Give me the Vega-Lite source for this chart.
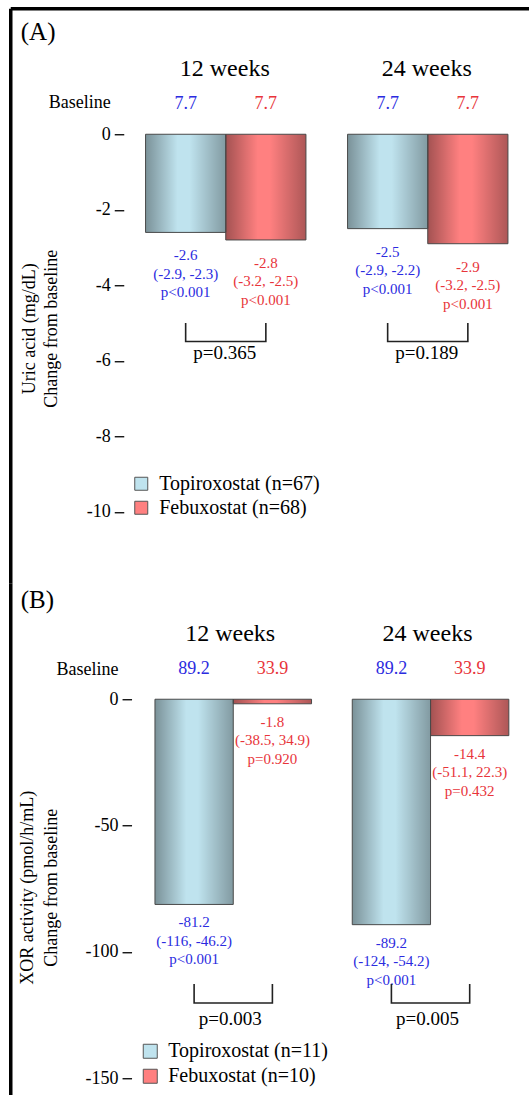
{
  "$schema": "https://vega.github.io/schema/vega-lite/v6.json",
  "padding": {"left": 10.25, "top": 8.25, "right": 0, "bottom": 0},
  "background": "white",
  "spacing": 0,
  "bounds": "flush",
  "config": {
    "font": "Liberation Serif",
    "view": {"stroke": null},
    "axis": {"labelFont": "Liberation Serif", "titleFont": "Liberation Serif", "grid": false},
    "legend": {"labelFont": "Liberation Serif"},
    "text": {"font": "Liberation Serif"}
  },
  "resolve": {
    "scale": {"x": "independent", "y": "independent", "xOffset": "independent", "color": "independent"},
    "legend": {"color": "independent"}
  },
  "datasets": {
    "barsA": [
      {"week": "12 weeks", "drug": "Topiroxostat", "value": -2.6, "base": "7.7", "label": "-2.6\n(-2.9, -2.3)\np<0.001"},
      {"week": "12 weeks", "drug": "Febuxostat", "value": -2.8, "base": "7.7", "label": "-2.8\n(-3.2, -2.5)\np<0.001"},
      {"week": "24 weeks", "drug": "Topiroxostat", "value": -2.5, "base": "7.7", "label": "-2.5\n(-2.9, -2.2)\np<0.001"},
      {"week": "24 weeks", "drug": "Febuxostat", "value": -2.9, "base": "7.7", "label": "-2.9\n(-3.2, -2.5)\np<0.001"}
    ],
    "pA": [
      {"week": "12 weeks", "p": "p=0.365"},
      {"week": "24 weeks", "p": "p=0.189"}
    ],
    "bracketA": [
      {"week": "12 weeks", "drug": "Topiroxostat", "y": -5.0, "o": 1},
      {"week": "12 weeks", "drug": "Topiroxostat", "y": -5.49, "o": 2},
      {"week": "12 weeks", "drug": "Febuxostat", "y": -5.49, "o": 3},
      {"week": "12 weeks", "drug": "Febuxostat", "y": -5.0, "o": 4},
      {"week": "24 weeks", "drug": "Topiroxostat", "y": -5.0, "o": 1},
      {"week": "24 weeks", "drug": "Topiroxostat", "y": -5.49, "o": 2},
      {"week": "24 weeks", "drug": "Febuxostat", "y": -5.49, "o": 3},
      {"week": "24 weeks", "drug": "Febuxostat", "y": -5.0, "o": 4}
    ],
    "barsB": [
      {"week": "12 weeks", "drug": "Topiroxostat", "value": -81.2, "base": "89.2", "label": "-81.2\n(-116, -46.2)\np<0.001"},
      {"week": "12 weeks", "drug": "Febuxostat", "value": -1.8, "base": "33.9", "label": "-1.8\n(-38.5, 34.9)\np=0.920"},
      {"week": "24 weeks", "drug": "Topiroxostat", "value": -89.2, "base": "89.2", "label": "-89.2\n(-124, -54.2)\np<0.001"},
      {"week": "24 weeks", "drug": "Febuxostat", "value": -14.4, "base": "33.9", "label": "-14.4\n(-51.1, 22.3)\np=0.432"}
    ],
    "pB": [
      {"week": "12 weeks", "p": "p=0.003"},
      {"week": "24 weeks", "p": "p=0.005"}
    ],
    "bracketB": [
      {"week": "12 weeks", "drug": "Topiroxostat", "y": -112.7, "o": 1},
      {"week": "12 weeks", "drug": "Topiroxostat", "y": -120.2, "o": 2},
      {"week": "12 weeks", "drug": "Febuxostat", "y": -120.2, "o": 3},
      {"week": "12 weeks", "drug": "Febuxostat", "y": -112.7, "o": 4},
      {"week": "24 weeks", "drug": "Topiroxostat", "y": -112.7, "o": 1},
      {"week": "24 weeks", "drug": "Topiroxostat", "y": -120.2, "o": 2},
      {"week": "24 weeks", "drug": "Febuxostat", "y": -120.2, "o": 3},
      {"week": "24 weeks", "drug": "Febuxostat", "y": -112.7, "o": 4}
    ]
  },
  "vconcat": [
    {
      "width": 519,
      "height": 575,
      "resolve": {"axis": {"y": "independent"}},
      "layer": [
        {
          "data": {"name": "barsA"},
          "mark": {"type": "bar"},
          "encoding": {
            "x": {"field": "week", "type": "nominal", "sort": null,
              "scale": {"domain": ["12 weeks", "24 weeks"], "paddingInner": 0, "paddingOuter": 0.28465, "align": 0.987},
              "axis": {"orient": "top", "domain": true, "domainColor": "black", "domainWidth": 3.5, "labels": false, "ticks": false, "title": null}},
            "xOffset": {"field": "drug", "type": "nominal",
              "scale": {"domain": ["Topiroxostat", "Febuxostat"], "paddingInner": 0, "paddingOuter": 0.2594, "align": 0.524}},
            "y": {"field": "value", "type": "quantitative", "stack": null,
              "scale": {"domain": [-11.894, 3.338], "nice": false, "zero": false},
              "axis": {"orient": "left", "offset": -113.5, "domain": false, "values": [0.83, 0, -2, -4, -6, -8, -10],
                "labelExpr": "datum.value > 0.5 ? 'Baseline' : '' + datum.value",
                "tickOpacity": {"condition": {"test": "datum.value > 0.5", "value": 0}, "value": 1},
                "tickSize": 9.5, "tickColor": "black", "tickWidth": 1.3,
                "labelFontSize": 18, "labelColor": "black", "labelPadding": 4, "labelOverlap": false, "labelFlush": false,
                "title": ["Uric acid (mg/dL)", "Change from baseline"], "titleFontSize": 18, "titleFontWeight": "normal", "titleColor": "black",
                "titleAngle": 270, "titleAlign": "center", "titleBaseline": "top", "titleX": -103, "titleY": 320, "titleLineHeight": 22}},
            "y2": {"datum": 0},
            "color": {"field": "drug", "type": "nominal",
              "scale": {"domain": ["Topiroxostat", "Febuxostat"], "range": ["#bfe3ee", "#ff8080"]},
              "legend": {"orient": "none", "legendX": 121, "legendY": 465.5, "title": null, "direction": "vertical",
                "labelExpr": "datum.label == 'Topiroxostat' ? 'Topiroxostat (n=67)' : 'Febuxostat (n=68)'",
                "labelFontSize": 20, "labelColor": "black", "labelOffset": 8, "labelLimit": 400, "rowPadding": 4, "padding": 0,
                "symbolType": "square", "symbolSize": 169, "symbolStrokeColor": "#555555", "symbolStrokeWidth": 1, "symbolOpacity": 1}}
          }
        },
        {
          "data": {"name": "barsA"},
          "mark": {"type": "bar", "stroke": "#4a4a4a", "strokeWidth": 1,
            "fill": {"gradient": "linear", "x1": 0, "y1": 0, "x2": 1, "y2": 0,
              "stops": [
                {"offset": 0, "color": "rgba(0,0,0,0.36)"},
                {"offset": 0.4, "color": "rgba(0,0,0,0)"},
                {"offset": 0.55, "color": "rgba(0,0,0,0)"},
                {"offset": 1, "color": "rgba(0,0,0,0.32)"}
              ]}},
          "encoding": {
            "x": {"field": "week", "type": "nominal",
              "axis": {"orient": "top", "domain": true, "domainColor": "black", "domainWidth": 3.5, "labels": false, "ticks": false, "title": null}},
            "xOffset": {"field": "drug", "type": "nominal"},
            "y": {"field": "value", "type": "quantitative", "stack": null, "axis": null},
            "y2": {"datum": 0}
          }
        },
        {
          "mark": {"type": "rule", "color": "#333333", "strokeWidth": 2},
          "encoding": {
            "x": {"datum": "12 weeks", "type": "nominal", "bandPosition": 0,
              "axis": {"orient": "top", "domain": true, "domainColor": "black", "domainWidth": 3.5, "labels": false, "ticks": false, "title": null}},
            "x2": {"value": "width"},
            "y": {"datum": 0, "type": "quantitative", "axis": null}
          }
        },
        {
          "mark": {"type": "rule", "color": "black", "strokeWidth": 1.5},
          "encoding": {
            "x": {"datum": "12 weeks", "type": "nominal", "bandPosition": 0,
              "axis": {"orient": "top", "domain": true, "domainColor": "black", "domainWidth": 3.5, "labels": false, "ticks": false, "title": null}},
            "y": {"datum": 1.04, "type": "quantitative",
              "axis": {"orient": "left", "offset": 0, "domain": true, "domainColor": "black", "domainWidth": 3.5,
                "labels": false, "ticks": false, "grid": false,
                "title": "(A)", "titleAngle": 0, "titleAlign": "left", "titleBaseline": "middle",
                "titleX": 10, "titleY": 23, "titleFontSize": 25, "titleFontWeight": "normal", "titleColor": "black"}},
            "y2": {"datum": -10.36}
          }
        },
        {
          "data": {"name": "pA"},
          "mark": {"type": "text", "fontSize": 24, "color": "black", "baseline": "middle"},
          "encoding": {
            "x": {"field": "week", "type": "nominal",
              "axis": {"orient": "top", "domain": true, "domainColor": "black", "domainWidth": 3.5, "labels": false, "ticks": false, "title": null}},
            "y": {"datum": 1.72, "type": "quantitative", "axis": null},
            "text": {"field": "week"}
          }
        },
        {
          "data": {"name": "barsA"},
          "mark": {"type": "text", "fontSize": 18, "baseline": "middle"},
          "encoding": {
            "x": {"field": "week", "type": "nominal",
              "axis": {"orient": "top", "domain": true, "domainColor": "black", "domainWidth": 3.5, "labels": false, "ticks": false, "title": null}},
            "xOffset": {"field": "drug", "type": "nominal"},
            "y": {"datum": 0.8, "type": "quantitative", "axis": null},
            "text": {"field": "base"},
            "color": {"condition": {"test": "datum.drug == 'Topiroxostat'", "value": "#2b2be0"}, "value": "#e8343a"}
          }
        },
        {
          "data": {"name": "barsA"},
          "mark": {"type": "text", "fontSize": 15, "baseline": "top", "lineBreak": "\n", "lineHeight": 18.5, "dy": 16},
          "encoding": {
            "x": {"field": "week", "type": "nominal",
              "axis": {"orient": "top", "domain": true, "domainColor": "black", "domainWidth": 3.5, "labels": false, "ticks": false, "title": null}},
            "xOffset": {"field": "drug", "type": "nominal"},
            "y": {"field": "value", "type": "quantitative", "axis": null},
            "text": {"field": "label"},
            "color": {"condition": {"test": "datum.drug == 'Topiroxostat'", "value": "#2b2be0"}, "value": "#e8343a"}
          }
        },
        {
          "data": {"name": "bracketA"},
          "mark": {"type": "line", "color": "#222222", "strokeWidth": 1.6},
          "encoding": {
            "x": {"field": "week", "type": "nominal",
              "axis": {"orient": "top", "domain": true, "domainColor": "black", "domainWidth": 3.5, "labels": false, "ticks": false, "title": null}},
            "xOffset": {"field": "drug", "type": "nominal"},
            "y": {"field": "y", "type": "quantitative", "axis": null},
            "detail": {"field": "week"},
            "order": {"field": "o"}
          }
        },
        {
          "data": {"name": "pA"},
          "mark": {"type": "text", "fontSize": 19, "color": "black", "baseline": "middle"},
          "encoding": {
            "x": {"field": "week", "type": "nominal",
              "axis": {"orient": "top", "domain": true, "domainColor": "black", "domainWidth": 3.5, "labels": false, "ticks": false, "title": null}},
            "y": {"datum": -5.8, "type": "quantitative", "axis": null},
            "text": {"field": "p"}
          }
        }
      ]
    },
    {
      "width": 519,
      "height": 512,
      "resolve": {"axis": {"y": "independent"}},
      "layer": [
        {
          "data": {"name": "barsB"},
          "mark": {"type": "bar"},
          "encoding": {
            "x": {"field": "week", "type": "nominal", "sort": null,
              "scale": {"domain": ["12 weeks", "24 weeks"], "paddingInner": 0, "paddingOuter": 0.3153, "align": 0.975},
              "axis": null},
            "xOffset": {"field": "drug", "type": "nominal",
              "scale": {"domain": ["Topiroxostat", "Febuxostat"], "paddingInner": 0, "paddingOuter": 0.26, "align": 0.575}},
            "y": {"field": "value", "type": "quantitative", "stack": null,
              "scale": {"domain": [-156.7, 45.9], "nice": false, "zero": false},
              "axis": {"orient": "left", "offset": -121.3, "domain": false, "values": [11.9, 0, -50, -100, -150],
                "labelExpr": "datum.value > 5 ? 'Baseline' : '' + datum.value",
                "tickOpacity": {"condition": {"test": "datum.value > 5", "value": 0}, "value": 1},
                "tickSize": 9.5, "tickColor": "black", "tickWidth": 1.3,
                "labelFontSize": 18, "labelColor": "black", "labelPadding": 4, "labelOverlap": false, "labelFlush": false,
                "title": ["XOR activity (pmol/h/mL)", "Change from baseline"], "titleFontSize": 18, "titleFontWeight": "normal", "titleColor": "black",
                "titleAngle": 270, "titleAlign": "center", "titleBaseline": "top", "titleX": -113.5, "titleY": 304, "titleLineHeight": 24}},
            "y2": {"datum": 0},
            "color": {"field": "drug", "type": "nominal",
              "scale": {"domain": ["Topiroxostat", "Febuxostat"], "range": ["#bfe3ee", "#ff8080"]},
              "legend": {"orient": "none", "legendX": 130, "legendY": 458, "title": null, "direction": "vertical",
                "labelExpr": "datum.label == 'Topiroxostat' ? 'Topiroxostat (n=11)' : 'Febuxostat (n=10)'",
                "labelFontSize": 20, "labelColor": "black", "labelOffset": 8, "labelLimit": 400, "rowPadding": 5, "padding": 0,
                "symbolType": "square", "symbolSize": 196, "symbolStrokeColor": "#555555", "symbolStrokeWidth": 1, "symbolOpacity": 1}}
          }
        },
        {
          "data": {"name": "barsB"},
          "mark": {"type": "bar", "stroke": "#4a4a4a", "strokeWidth": 1,
            "fill": {"gradient": "linear", "x1": 0, "y1": 0, "x2": 1, "y2": 0,
              "stops": [
                {"offset": 0, "color": "rgba(0,0,0,0.36)"},
                {"offset": 0.4, "color": "rgba(0,0,0,0)"},
                {"offset": 0.55, "color": "rgba(0,0,0,0)"},
                {"offset": 1, "color": "rgba(0,0,0,0.32)"}
              ]}},
          "encoding": {
            "x": {"field": "week", "type": "nominal", "axis": null},
            "xOffset": {"field": "drug", "type": "nominal"},
            "y": {"field": "value", "type": "quantitative", "stack": null, "axis": null},
            "y2": {"datum": 0}
          }
        },
        {
          "mark": {"type": "rule", "color": "#333333", "strokeWidth": 2},
          "encoding": {
            "x": {"datum": "12 weeks", "type": "nominal", "bandPosition": 0, "axis": null},
            "x2": {"value": "width"},
            "y": {"datum": 0, "type": "quantitative", "axis": null}
          }
        },
        {
          "mark": {"type": "rule", "color": "black", "strokeWidth": 1.5},
          "encoding": {
            "x": {"datum": "12 weeks", "type": "nominal", "bandPosition": 0, "axis": null},
            "y": {"datum": 15.55, "type": "quantitative",
              "axis": {"orient": "left", "offset": 0, "domain": true, "domainColor": "black", "domainWidth": 3.5,
                "labels": false, "ticks": false, "grid": false,
                "title": "(B)", "titleAngle": 0, "titleAlign": "left", "titleBaseline": "middle",
                "titleX": 10, "titleY": 16, "titleFontSize": 25, "titleFontWeight": "normal", "titleColor": "black"}},
            "y2": {"datum": -154.7}
          }
        },
        {
          "data": {"name": "pB"},
          "mark": {"type": "text", "fontSize": 24, "color": "black", "baseline": "middle"},
          "encoding": {
            "x": {"field": "week", "type": "nominal", "axis": null},
            "y": {"datum": 25.7, "type": "quantitative", "axis": null},
            "text": {"field": "week"}
          }
        },
        {
          "data": {"name": "barsB"},
          "mark": {"type": "text", "fontSize": 18, "baseline": "middle"},
          "encoding": {
            "x": {"field": "week", "type": "nominal", "axis": null},
            "xOffset": {"field": "drug", "type": "nominal"},
            "y": {"datum": 11.9, "type": "quantitative", "axis": null},
            "text": {"field": "base"},
            "color": {"condition": {"test": "datum.drug == 'Topiroxostat'", "value": "#2b2be0"}, "value": "#e8343a"}
          }
        },
        {
          "data": {"name": "barsB"},
          "mark": {"type": "text", "fontSize": 15, "baseline": "top", "lineBreak": "\n", "lineHeight": 18.5, "dy": 11},
          "encoding": {
            "x": {"field": "week", "type": "nominal", "axis": null},
            "xOffset": {"field": "drug", "type": "nominal"},
            "y": {"field": "value", "type": "quantitative", "axis": null},
            "text": {"field": "label"},
            "color": {"condition": {"test": "datum.drug == 'Topiroxostat'", "value": "#2b2be0"}, "value": "#e8343a"}
          }
        },
        {
          "data": {"name": "bracketB"},
          "mark": {"type": "line", "color": "#222222", "strokeWidth": 1.6},
          "encoding": {
            "x": {"field": "week", "type": "nominal", "axis": null},
            "xOffset": {"field": "drug", "type": "nominal"},
            "y": {"field": "y", "type": "quantitative", "axis": null},
            "detail": {"field": "week"},
            "order": {"field": "o"}
          }
        },
        {
          "data": {"name": "pB"},
          "mark": {"type": "text", "fontSize": 19, "color": "black", "baseline": "middle"},
          "encoding": {
            "x": {"field": "week", "type": "nominal", "axis": null},
            "y": {"datum": -126.6, "type": "quantitative", "axis": null},
            "text": {"field": "p"}
          }
        }
      ]
    }
  ]
}
